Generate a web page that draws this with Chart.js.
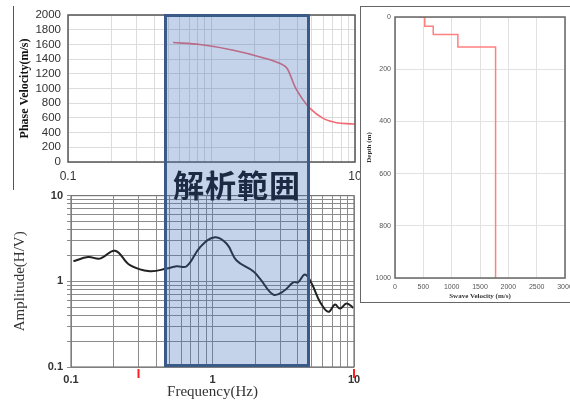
<!DOCTYPE html>
<html>
<head>
<meta charset="utf-8">
<script src="https://cdn.jsdelivr.net/npm/chart.js@4"></script>
<style>
  html, body { margin: 0; padding: 0; background: #fff; }
  body { position: relative; width: 570px; height: 401px; overflow: hidden; }
  .box { position: absolute; }
  #topWrap { left: 0; top: 0; width: 370px; height: 190px; }
  #hvWrap { left: 0; top: 185px; width: 370px; height: 216px; }
  #vsBox { left: 360px; top: 6px; width: 222px; height: 295px; border: 1px solid #666; background: #fff; }
  #vsWrap { left: 0; top: 0; width: 222px; height: 296px; }
  #leftLine { left: 13px; top: 6px; width: 1px; height: 184px; background: #555; }
  #band { left: 164px; top: 14px; width: 140px; height: 347px; border: 3px solid #3a5b88;
          background: rgba(60, 110, 185, 0.3); }
  #bandText { left: 164px; top: 166px; width: 146px; text-align: center;
              font-family: "Noto Sans CJK JP", sans-serif; font-weight: 700; font-size: 31px;
              color: #1c2a44; letter-spacing: 1px; line-height: 36px; }
</style>
</head>
<body>
<div class="box" id="leftLine"></div>
<div class="box" id="topWrap"><canvas id="phase"></canvas></div>
<div class="box" id="hvWrap"><canvas id="hv"></canvas></div>
<div class="box" id="vsBox"><div class="box" id="vsWrap"><canvas id="vs"></canvas></div></div>
<div class="box" id="band"></div>
<div class="box" id="bandText">解析範囲</div>
<script>
const freqGrid = [0.1, 0.2, 0.3, 0.4, 0.5, 0.6, 0.7, 0.8, 0.9, 1, 2, 3, 4, 5, 6, 7, 8, 9, 10];
const ampGrid = [0.1, 0.2, 0.3, 0.4, 0.5, 0.6, 0.7, 0.8, 0.9, 1, 2, 3, 4, 5, 6, 7, 8, 9, 10];
const decadeLabels = [0.1, 1, 10];

const phaseFreq = [0.54, 0.83, 1.42, 2.18, 3.0, 3.37, 3.82, 4.36, 4.86, 6.0, 7.45, 9.7, 10];
const phaseVel = [1625, 1598, 1521, 1430, 1340, 1272, 1022, 842, 729, 593, 534, 516, 512];

const hvFreq = [0.104, 0.132, 0.16, 0.205, 0.261, 0.361, 0.474, 0.558, 0.657, 0.817, 1.04, 1.26, 1.48,
  1.94, 2.17, 2.69, 3.17, 3.72, 4.04, 4.5, 5.02, 5.75, 6.58, 7.34, 7.96, 8.87, 9.9];
const hvAmp = [1.71, 1.92, 1.84, 2.27, 1.54, 1.31, 1.41, 1.5, 1.5, 2.5, 3.27, 2.74, 1.75,
  1.31, 1.07, 0.70, 0.765, 0.97, 0.98, 1.2, 0.94, 0.575, 0.44, 0.535, 0.48, 0.55, 0.49];
const markFreqs = [0.3, 10];

const vsVel = [420, 525, 525, 675, 675, 1110, 1110, 1775, 1775];
const vsDepth = [0, 0, 35, 35, 67, 67, 115, 115, 1000];

const frame = {
  id: 'frame',
  afterDraw(chart, args, opts) {
    const a = chart.chartArea, c = chart.ctx;
    c.save();
    c.strokeStyle = opts.color;
    c.lineWidth = opts.width;
    c.strokeRect(a.left, a.top, a.right - a.left, a.bottom - a.top);
    c.restore();
  }
};

const redMarks = {
  id: 'redMarks',
  afterDraw(chart) {
    const c = chart.ctx, x = chart.scales.x, b = chart.chartArea.bottom;
    c.save();
    c.strokeStyle = '#ff2020';
    c.lineWidth = 2;
    markFreqs.forEach(f => {
      const px = x.getPixelForValue(f);
      c.beginPath();
      c.moveTo(px, b + 2);
      c.lineTo(px, b + 11);
      c.stroke();
    });
    c.restore();
  }
};

function setTicks(vals) {
  return function (scale) { scale.ticks = vals.map(v => ({ value: v })); };
}
function decadeLabel(v) {
  return decadeLabels.some(d => Math.abs(d - v) < 1e-9) ? String(v) : '';
}
function plain(v) { return String(v); }

new Chart(document.getElementById('phase'), {
  type: 'line',
  data: {
    datasets: [{
      data: phaseFreq.map((f, i) => ({ x: f, y: phaseVel[i] })),
      borderColor: '#f06a72',
      borderWidth: 1.6,
      pointRadius: 0,
      cubicInterpolationMode: 'monotone'
    }]
  },
  plugins: [frame],
  options: {
    responsive: true,
    maintainAspectRatio: false,
    animation: false,
    layout: { padding: { top: 15, right: 15, left: 0, bottom: 0 } },
    plugins: { legend: { display: false }, tooltip: { enabled: false }, frame: { color: '#555', width: 1.5 } },
    scales: {
      x: {
        type: 'logarithmic', min: 0.1, max: 10,
        afterBuildTicks: setTicks(freqGrid),
        afterFit(s) { s.height = 28; },
        grid: { color: '#dcdcdc', drawTicks: false },
        border: { display: false },
        ticks: { autoSkip: false, maxRotation: 0, padding: 7, color: '#333',
                 font: { family: 'Liberation Sans', size: 12 }, callback: decadeLabel }
      },
      y: {
        min: 0, max: 2000,
        afterFit(s) { s.width = 68; },
        grid: { color: '#dcdcdc', drawTicks: false },
        border: { display: false },
        ticks: { stepSize: 200, autoSkip: false, padding: 7, color: '#333', callback: plain,
                 font: { family: 'Liberation Sans', size: 11.5 } },
        title: { display: true, text: 'Phase Velocity(m/s)', color: '#111', padding: { top: 18 },
                 font: { family: 'Liberation Serif', size: 12, weight: 'bold' } }
      }
    }
  }
});

new Chart(document.getElementById('hv'), {
  type: 'line',
  data: {
    datasets: [{
      data: hvFreq.map((f, i) => ({ x: f, y: hvAmp[i] })),
      borderColor: '#222',
      borderWidth: 2,
      pointRadius: 0,
      tension: 0.4
    }]
  },
  plugins: [frame, redMarks],
  options: {
    responsive: true,
    maintainAspectRatio: false,
    animation: false,
    layout: { padding: { top: 10, right: 16, left: 0, bottom: 0 } },
    plugins: { legend: { display: false }, tooltip: { enabled: false }, frame: { color: '#777', width: 1.2 } },
    scales: {
      x: {
        type: 'logarithmic', min: 0.1, max: 10,
        afterBuildTicks: setTicks(freqGrid),
        afterFit(s) { s.height = 34; },
        grid: { color: '#8c8c8c', drawTicks: false },
        border: { display: false },
        ticks: { autoSkip: false, maxRotation: 0, padding: 6, color: '#333',
                 font: { family: 'Liberation Sans', size: 11, weight: 'bold' }, callback: decadeLabel },
        title: { display: true, text: 'Frequency(Hz)', color: '#333', padding: { top: 0, bottom: 0 },
                 font: { family: 'Liberation Serif', size: 15 } }
      },
      y: {
        type: 'logarithmic', min: 0.1, max: 10,
        afterBuildTicks: setTicks(ampGrid),
        afterFit(s) { s.width = 71; },
        grid: { color: '#8c8c8c', tickLength: 4 },
        border: { display: false },
        ticks: { autoSkip: false, padding: 4, color: '#333',
                 font: { family: 'Liberation Sans', size: 11, weight: 'bold' }, callback: decadeLabel },
        title: { display: true, text: 'Amplitude(H/V)', color: '#333', padding: { top: 11 },
                 font: { family: 'Liberation Serif', size: 15 } }
      }
    }
  }
});

new Chart(document.getElementById('vs'), {
  type: 'scatter',
  data: {
    datasets: [{
      data: vsVel.map((v, i) => ({ x: v, y: vsDepth[i] })),
      showLine: true,
      borderColor: '#ff8080',
      borderWidth: 1.5,
      pointRadius: 0
    }]
  },
  plugins: [frame],
  options: {
    responsive: true,
    maintainAspectRatio: false,
    animation: false,
    layout: { padding: { top: 10, right: 18, left: 0, bottom: 0 } },
    plugins: { legend: { display: false }, tooltip: { enabled: false }, frame: { color: '#666', width: 1.5 } },
    scales: {
      x: {
        min: 0, max: 3000,
        afterFit(s) { s.height = 25; },
        grid: { color: '#e2e2e2', drawTicks: false },
        border: { display: false },
        ticks: { stepSize: 500, autoSkip: false, padding: 5, color: '#555', callback: plain,
                 font: { family: 'Liberation Sans', size: 7 } },
        title: { display: true, text: 'Swave Velocity (m/s)', color: '#333', padding: { top: 0, bottom: 3 },
                 font: { family: 'Liberation Serif', size: 7, weight: 'bold' } }
      },
      y: {
        reverse: true, min: 0, max: 1000,
        afterFit(s) { s.width = 34; },
        grid: { color: '#e2e2e2', drawTicks: false },
        border: { display: false },
        ticks: { stepSize: 200, autoSkip: false, padding: 4, color: '#555', callback: plain,
                 font: { family: 'Liberation Sans', size: 7 } },
        title: { display: true, text: 'Depth (m)', color: '#333', padding: { top: 4 },
                 font: { family: 'Liberation Serif', size: 7, weight: 'bold' } }
      }
    }
  }
});
</script>
</body>
</html>
